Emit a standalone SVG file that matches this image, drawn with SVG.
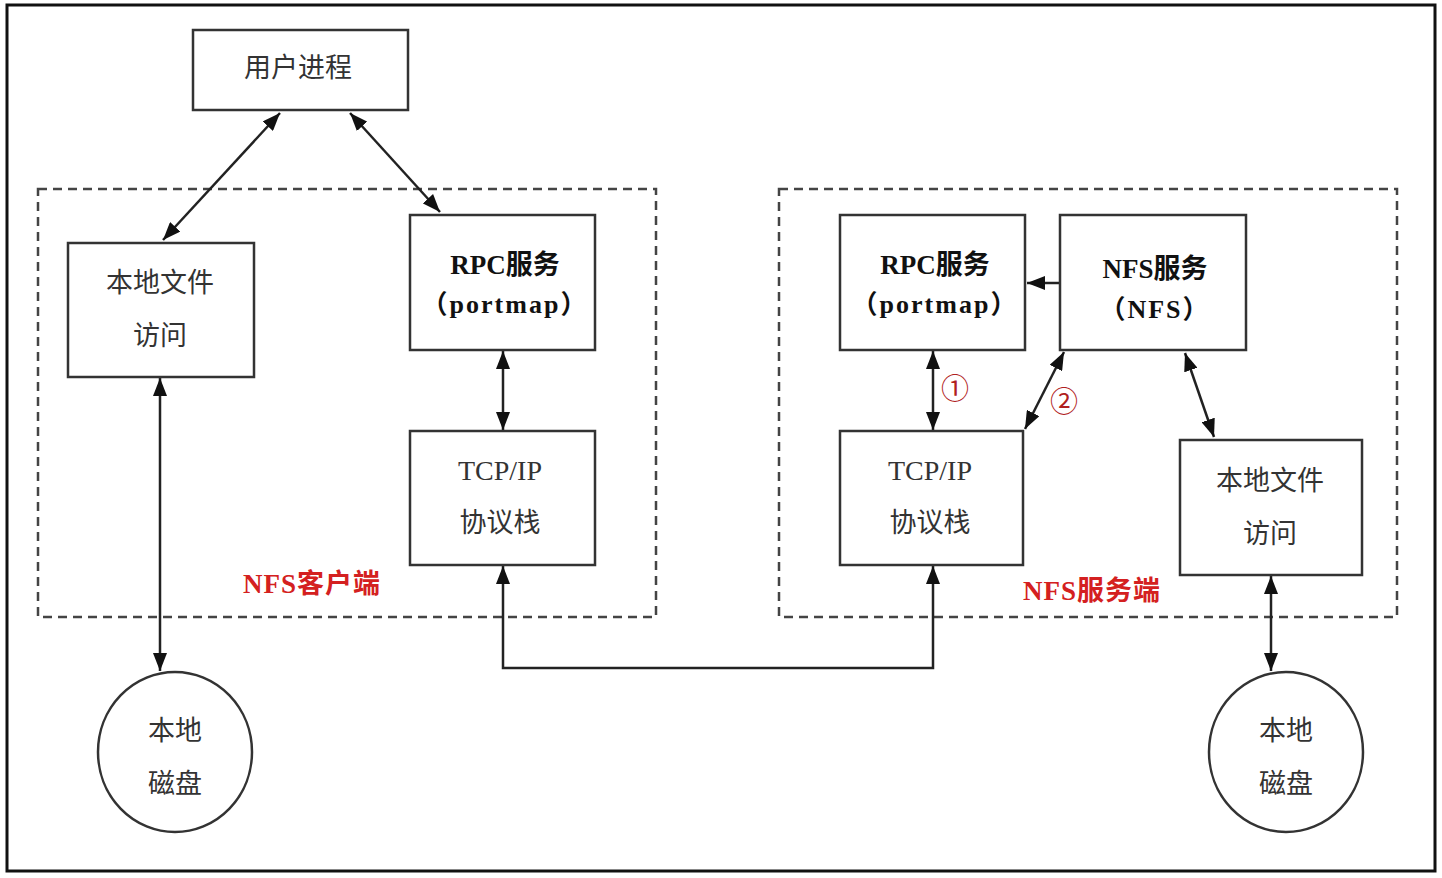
<svg xmlns="http://www.w3.org/2000/svg" width="1442" height="878" viewBox="0 0 1442 878">
<style>
.box{fill:#fff;stroke:#333;stroke-width:2.5}
.dash{fill:none;stroke:#444;stroke-width:2.5;stroke-dasharray:9 6}
.ln{fill:none;stroke:#222;stroke-width:2.5}
.t{font-family:"Noto Sans CJK SC","Liberation Sans",sans-serif;font-size:27px;fill:#333;text-anchor:middle}
.tb{font-family:"Liberation Serif","Noto Sans CJK SC",serif;font-size:27px;font-weight:bold;fill:#111;text-anchor:middle}
.pm{font-family:"Liberation Serif","Noto Sans CJK SC",serif;font-size:26px;font-weight:bold;fill:#111;text-anchor:middle;letter-spacing:2px}
.tl{font-family:"Liberation Serif","Noto Sans CJK SC",serif;font-size:28px;fill:#333;text-anchor:middle}
.red{font-family:"Liberation Serif","Noto Sans CJK SC",serif;font-size:27px;font-weight:bold;fill:#d42020;text-anchor:middle;letter-spacing:1px}
.num{font-family:"Liberation Serif","Noto Sans CJK SC",serif;font-size:28px;fill:#b02020;text-anchor:middle}
</style>
<defs>
<marker id="a" viewBox="0 0 10 10" refX="10" refY="5" markerWidth="18" markerHeight="14" markerUnits="userSpaceOnUse" orient="auto-start-reverse" preserveAspectRatio="none">
<path d="M0,0 L10,5 L0,10 z" fill="#111"/>
</marker>
</defs>
<rect x="0" y="0" width="1442" height="878" fill="#fff"/>
<rect x="7" y="5" width="1428" height="866" fill="none" stroke="#111" stroke-width="3"/>

<g id="client-group">
<rect class="dash" x="38" y="189" width="618" height="428"/>
<text class="red" x="312" y="593">NFS客户端</text>
</g>
<g id="server-group">
<rect class="dash" x="779" y="189" width="618" height="428"/>
<text class="red" x="1092" y="600">NFS服务端</text>
</g>

<g id="connectors">
<line class="ln" x1="280" y1="113" x2="163" y2="240" marker-start="url(#a)" marker-end="url(#a)"/>
<line class="ln" x1="350" y1="113" x2="440" y2="212" marker-start="url(#a)" marker-end="url(#a)"/>
<line class="ln" x1="503" y1="351" x2="503" y2="430" marker-start="url(#a)" marker-end="url(#a)"/>
<line class="ln" x1="160" y1="378" x2="160" y2="671" marker-start="url(#a)" marker-end="url(#a)"/>
<path class="ln" d="M503,566 L503,668 L933,668 L933,566" marker-start="url(#a)" marker-end="url(#a)"/>
<line class="ln" x1="933" y1="351" x2="933" y2="430" marker-start="url(#a)" marker-end="url(#a)"/>
<line class="ln" x1="1059" y1="283" x2="1027" y2="283" marker-end="url(#a)"/>
<line class="ln" x1="1064" y1="352" x2="1025" y2="429" marker-start="url(#a)" marker-end="url(#a)"/>
<line class="ln" x1="1185" y1="353" x2="1214" y2="437" marker-start="url(#a)" marker-end="url(#a)"/>
<line class="ln" x1="1271" y1="576" x2="1271" y2="671" marker-start="url(#a)" marker-end="url(#a)"/>
<text class="num" x="955" y="399">①</text>
<text class="num" x="1064" y="412">②</text>
</g>

<g id="user-process">
<rect class="box" x="193" y="30" width="215" height="80"/>
<text class="t" x="298" y="77">用户进程</text>
</g>
<g id="client-local-file">
<rect class="box" x="68" y="243" width="186" height="134"/>
<text class="t" x="160" y="292">本地文件</text>
<text class="t" x="160" y="345">访问</text>
</g>
<g id="client-rpc">
<rect class="box" x="410" y="215" width="185" height="135"/>
<text class="tb" x="505" y="274">RPC服务</text>
<text class="pm" x="505" y="313">（portmap）</text>
</g>
<g id="client-tcpip">
<rect class="box" x="410" y="431" width="185" height="134"/>
<text class="tl" x="500" y="480">TCP/IP</text>
<text class="t" x="500" y="532">协议栈</text>
</g>
<g id="client-disk">
<ellipse class="box" cx="175" cy="752" rx="77" ry="80"/>
<text class="t" x="175" y="740">本地</text>
<text class="t" x="175" y="793">磁盘</text>
</g>

<g id="server-rpc">
<rect class="box" x="840" y="215" width="185" height="135"/>
<text class="tb" x="935" y="274">RPC服务</text>
<text class="pm" x="935" y="313">（portmap）</text>
</g>
<g id="server-nfs">
<rect class="box" x="1060" y="215" width="186" height="135"/>
<text class="tb" x="1155" y="278">NFS服务</text>
<text class="pm" x="1155" y="318">（NFS）</text>
</g>
<g id="server-tcpip">
<rect class="box" x="840" y="431" width="183" height="134"/>
<text class="tl" x="930" y="480">TCP/IP</text>
<text class="t" x="930" y="532">协议栈</text>
</g>
<g id="server-local-file">
<rect class="box" x="1180" y="440" width="182" height="135"/>
<text class="t" x="1270" y="490">本地文件</text>
<text class="t" x="1270" y="543">访问</text>
</g>
<g id="server-disk">
<ellipse class="box" cx="1286" cy="752" rx="77" ry="80"/>
<text class="t" x="1286" y="740">本地</text>
<text class="t" x="1286" y="793">磁盘</text>
</g>
</svg>
